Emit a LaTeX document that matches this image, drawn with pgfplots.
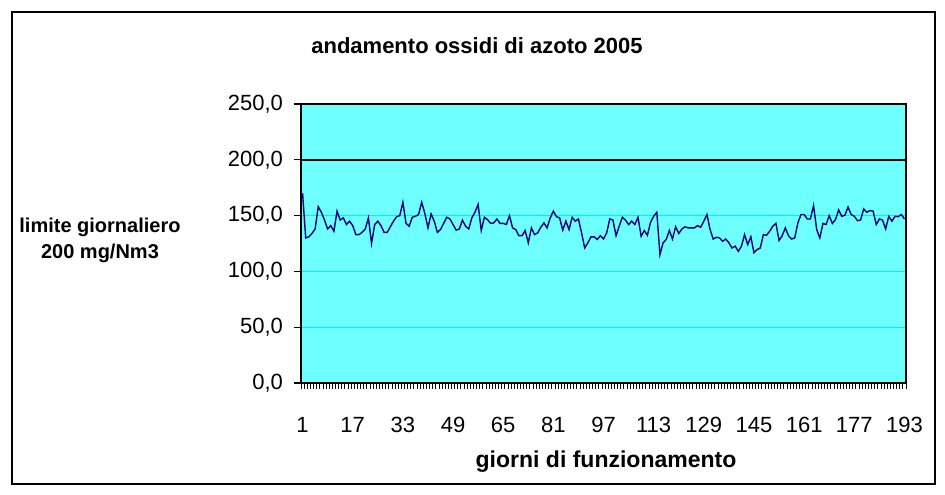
\documentclass[border=0pt]{standalone}
\usepackage{pgfplots}
\pgfplotsset{compat=1.18}
\usepackage{pgfplotstable}
\usepackage{fontspec}
\setmainfont{Liberation Sans}
\definecolor{plotbg}{RGB}{110,255,255}
\definecolor{gridc}{RGB}{0,240,255}
\definecolor{navyline}{RGB}{0,0,128}
\pgfplotstableread{
y
170
130
131
134
138
158
153
146
138
141
136
154
146
148
142
145
141
133
133
135
138
148
125
142
145
141
135
135
140
145
149
150
162
143
140.5
148.5
149.4
151
162
152
139
151.5
145
135
137.5
143
148.5
147
142
137
138
146
140.5
138
148
153
160
136.6
148.5
146.4
143
143.5
147
143
143
142
150
139
137.5
132
132
136.6
125.6
139
133
134.5
139.6
143.5
139
148
154
149
148
137
145
137.5
148.5
145
147
134.5
121
125.6
131
131
128.6
132
129
134.5
147
146
132
140.5
148.5
146
142
145
142
148.5
131.5
136.6
132.4
144
149.4
153
115
125.6
128.6
136.6
129
140
134
138
140
139
139
139
141
139.6
145
151
137.5
129
130.6
130
127
129
125.6
121
122.6
118
122.6
133
124
131
116.7
119.6
121
133
132.4
136
140.5
143
127.7
132
139
132
129
130
143.5
151
151
147
147
159
137.5
130
143
142
150
143
146.4
155
149.4
150.3
157.7
151
149.4
145.5
146
156
153
154.5
154
142
147
146
138
149.4
145
149.4
149
151
147
}\nox
\begin{document}
\begin{tikzpicture}
\path[use as bounding box] (0,0) rectangle (472.5pt,247pt);
\fill[white] (0,0) rectangle (472.5pt,247pt);
\draw[black, line width=0.6pt] (6pt,5pt) rectangle (467.5pt,241pt);
\begin{axis}[
  at={(150.5pt,55.5pt)}, anchor=south west,
  scale only axis, width=302.5pt, height=139.5pt,
  xmin=0.5, xmax=193.5, ymin=0, ymax=250,
  axis background/.style={fill=plotbg},
  axis line style={black, line width=0.6pt},
  xtick={1,17,...,193},
  minor xtick={0.5,1.5,...,193.5},
  ytick={0,50,...,250},
  tick align=outside,
  major tick length=3.5pt, minor tick length=3pt,
  major x tick style={draw=none},
  minor x tick style={black, line width=0.4pt},
  y tick style={black, line width=0.6pt},
  xtick pos=bottom, ytick pos=left,
  ymajorgrids, grid style={gridc, line width=0.5pt},
  /pgf/number format/assume math mode=true,
  yticklabel style={/pgf/number format/.cd, fixed, fixed zerofill, precision=1, use comma, /tikz/.cd, font=\fontsize{11}{13}\selectfont, xshift=-2pt},
  xticklabel style={font=\fontsize{11}{13}\selectfont, yshift=-10pt},
  clip=false,
]
\addplot[navyline, line width=0.7pt] table[x expr=\coordindex+1, y=y] {\nox};
\addplot[black, line width=0.7pt] coordinates {(0.5,200) (193.5,200)};
\end{axis}
\node[font=\bfseries\fontsize{11}{13}\selectfont] at (238.5pt,224pt) {andamento ossidi di azoto 2005};
\node[font=\bfseries\fontsize{10}{12}\selectfont, align=center] at (50pt,127pt) {limite giornaliero\\[1pt]200 mg/Nm3};
\node[font=\bfseries\fontsize{11.5}{13}\selectfont] at (303pt,16pt) {giorni di funzionamento};
\end{tikzpicture}
\end{document}
